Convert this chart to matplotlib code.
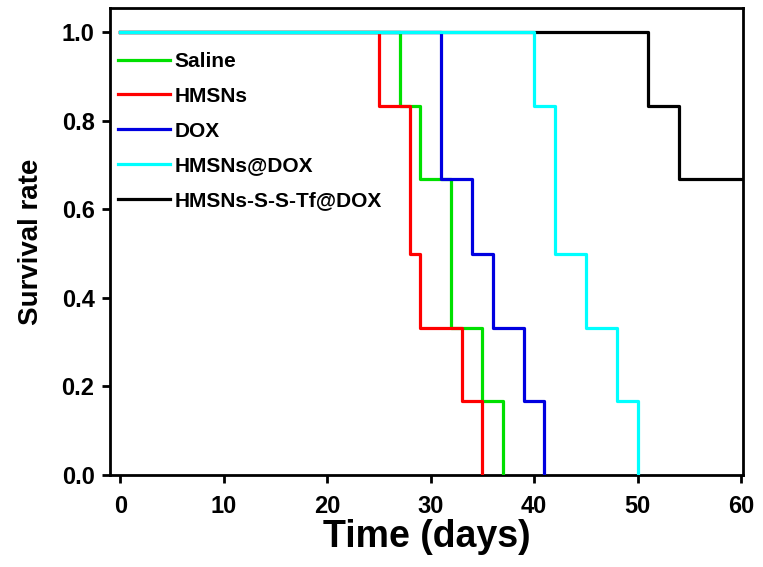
import matplotlib
matplotlib.use("Agg")
import matplotlib.pyplot as plt

plt.rcParams['font.family'] = ['Liberation Sans', 'DejaVu Sans']
plt.rcParams['font.weight'] = 'bold'

labels = ["Saline", "HMSNs", "DOX", "HMSNs@DOX", "HMSNs-S-S-Tf@DOX"]
colors = ["#00e000", "#ff0000", "#0000e0", "#00ffff", "#000000"]

saline_t = [0, 27, 29, 32, 35, 37]
saline_s = [1.0, 0.833, 0.667, 0.333, 0.167, 0.0]
hmsns_t = [0, 25, 28, 29, 33, 35]
hmsns_s = [1.0, 0.833, 0.5, 0.333, 0.167, 0.0]
dox_t = [0, 31, 34, 36, 39, 41]
dox_s = [1.0, 0.667, 0.5, 0.333, 0.167, 0.0]
hdox_t = [0, 40, 42, 45, 48, 50]
hdox_s = [1.0, 0.833, 0.5, 0.333, 0.167, 0.0]
tf_t = [0, 51, 54, 60]
tf_s = [1.0, 0.833, 0.667, 0.667]

times = [saline_t, hmsns_t, dox_t, hdox_t, tf_t]
survs = [saline_s, hmsns_s, dox_s, hdox_s, tf_s]
zorders = [3, 4, 3, 6, 2]

fig = plt.figure(figsize=(7.63, 5.67), dpi=100)
ax = fig.add_axes([0.144, 0.162, 0.830, 0.824])

for t, s, c, lab, z in zip(times, survs, colors, labels, zorders):
    ax.step(t, s, where='post', color=c, lw=2.3, label=lab, zorder=z)

ax.set_xlim(-1, 60.2)
ax.set_ylim(0, 1.054)
ax.set_xticks([0, 10, 20, 30, 40, 50, 60])
ax.set_yticks([0.0, 0.2, 0.4, 0.6, 0.8, 1.0])
ax.set_yticklabels(["0.0", "0.2", "0.4", "0.6", "0.8", "1.0"])
ax.tick_params(direction='out', length=6, width=2, labelsize=17)
ax.tick_params(axis='x', pad=8)
ax.tick_params(axis='y', pad=5)
for sp in ax.spines.values():
    sp.set_linewidth(2)
for lab in ax.get_xticklabels() + ax.get_yticklabels():
    lab.set_fontweight('bold')

ax.set_xlabel("Time (days)", fontsize=27, fontweight='bold', labelpad=1)
ax.set_ylabel("Survival rate", fontsize=20, fontweight='bold', labelpad=13)

leg = ax.legend(loc='upper left', bbox_to_anchor=(-0.01, 0.937), frameon=False,
                prop={'weight': 'bold', 'size': 15}, handlelength=2.5,
                handletextpad=0.2, labelspacing=0.76, borderaxespad=0.3)

fig.savefig("out.png", dpi=100)
